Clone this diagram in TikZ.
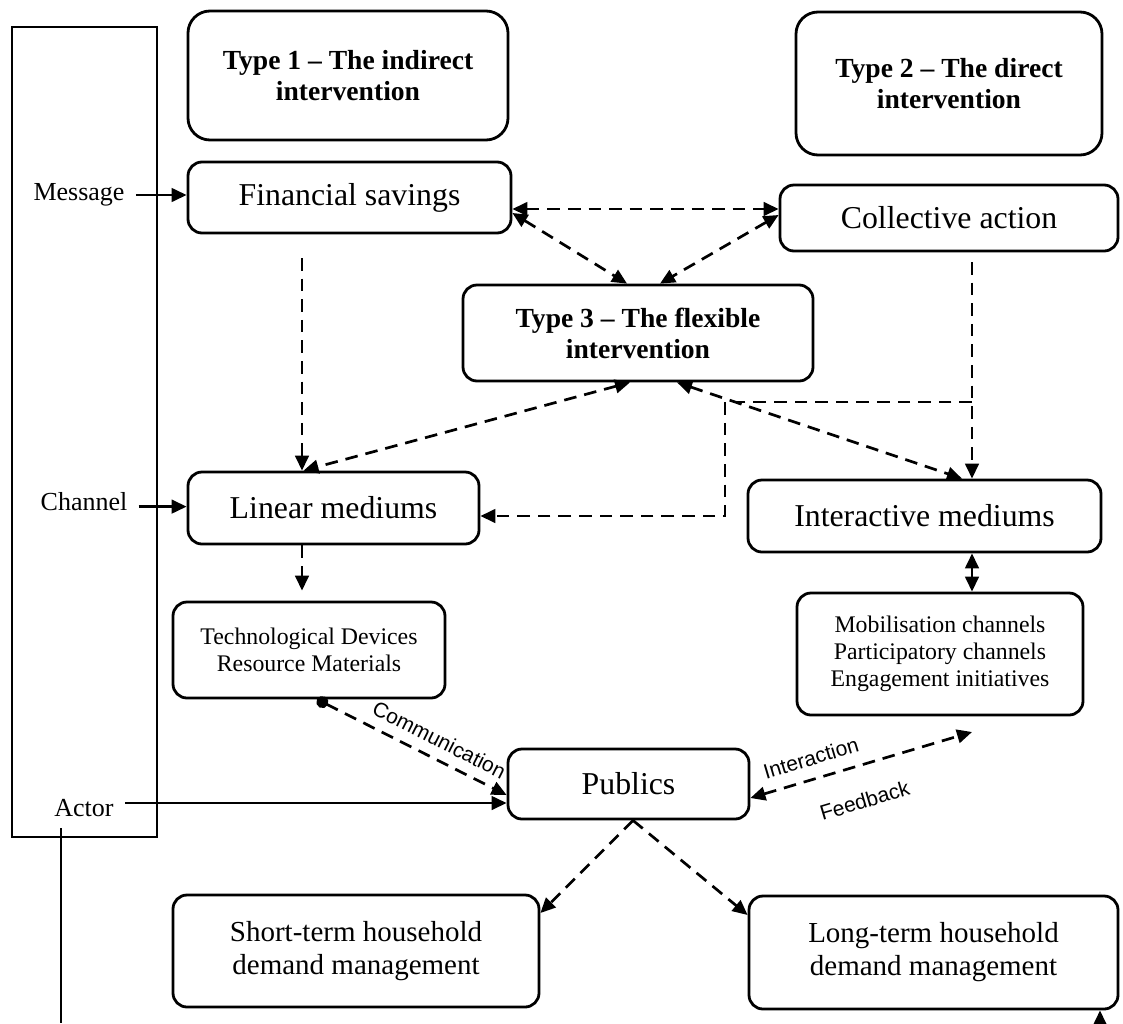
\documentclass[tikz,border=0pt]{standalone}
\usepackage{fontspec}
\setmainfont{Liberation Serif}
\newfontfamily\labelsans{Liberation Sans}
\usetikzlibrary{arrows.meta, positioning}

\tikzset{
  box/.style={draw, line width=1.4pt, rounded corners=7pt, align=center, inner sep=2pt},
  typebox/.style={box, rounded corners=11pt, font=\fontsize{13.8}{15.5}\selectfont\bfseries},
  bigbox/.style={box, font=\fontsize{15.9}{18}\selectfont},
  smallbox/.style={box, font=\fontsize{11.9}{13.4}\selectfont},
  outcome/.style={box, font=\fontsize{14.5}{16.5}\selectfont},
  side/.style={font=\fontsize{13}{15}\selectfont, inner sep=5.5pt},
  flow/.style={dash pattern=on 6.3pt off 4pt, line width=1.35pt},
  feed/.style={line width=1.3pt},
  tag/.style={font=\labelsans\fontsize{10.5}{12}\selectfont, sloped, inner sep=1pt}
}

\begin{document}
\begin{tikzpicture}[x=0.5pt, y=-0.5pt, >={Triangle[length=7.5pt,width=6.8pt]}]
\useasboundingbox (0,0) rectangle (1123,1023);

\node[draw, line width=1.3pt, minimum width=72.5pt, minimum height=405pt] (frame) at (84.5,432) {};
\node[side] (msg) at (79,195) {Message};
\node[side] (chan) at (84,502) {Channel};
\node[side] (actor) at (84,808) {Actor};

\node[typebox, minimum width=160pt, minimum height=64.5pt] (type1) at (348,75.5) {Type 1 – The indirect\\intervention};
\node[typebox, minimum width=153pt, minimum height=71.5pt] (type2) at (949,83.5) {Type 2 – The direct\\intervention};
\node[bigbox, minimum width=161.5pt, minimum height=35.5pt] (fin) at (349.5,197.5) {Financial savings};
\node[bigbox, minimum width=169pt, minimum height=33pt] (coll) at (949,218) {Collective action};
\node[typebox, rounded corners=7pt, minimum width=175pt, minimum height=48pt] (type3) at (638,333) {Type 3 – The flexible\\intervention};
\node[bigbox, minimum width=145.5pt, minimum height=36pt] (lin) at (333.5,508) {Linear mediums};
\node[bigbox, minimum width=176.5pt, minimum height=36pt] (inter) at (924.5,516) {Interactive mediums};
\node[smallbox, minimum width=136pt, minimum height=48pt] (tech) at (309,650) {Technological Devices\\Resource Materials};
\node[smallbox, minimum width=143pt, minimum height=61pt] (mob) at (940,654) {Mobilisation channels\\Participatory channels\\Engagement initiatives};
\node[bigbox, minimum width=120.5pt, minimum height=35pt] (pub) at (628.5,784) {Publics};
\node[outcome, minimum width=183pt, minimum height=56pt] (short) at (356,951) {Short-term household\\demand management};
\node[outcome, minimum width=184.5pt, minimum height=56.5pt] (long) at (933.5,952.5) {Long-term household\\demand management};

\coordinate (finlow) at (302,258);
\coordinate (colllow) at (972,262);
\coordinate (cbend) at (972,402);
\coordinate (lbend) at (725,516);
\coordinate (fback) at (972,732);
\coordinate (lbot) at (1100,1023);
\coordinate (abot) at (61,1023);

\draw[feed, ->] (msg.east) -- (msg.east -| fin.west);
\draw[feed, ->] ([yshift=-2.3pt]chan.east) -- ([yshift=-2.3pt]chan.east -| lin.west);
\draw[feed, ->] ([yshift=2.5pt]actor.east) -- ([yshift=2.5pt]actor.east -| pub.west);
\draw[line width=0.6pt] (abot |- actor.south) -- (abot);

\draw[flow, <->] ([yshift=-5.75pt]fin.east) -- ([yshift=4.5pt]coll.west);
\draw[flow, <->] ([yshift=-7.75pt]fin.east) -- ([xshift=-5.5pt]type3.north);
\draw[flow, <->] ([yshift=1.5pt]coll.west) -- ([xshift=11pt]type3.north);
\draw[flow, ->] (finlow) -- (finlow |- lin.north);
\draw[flow, <->] ([xshift=-4pt]type3.south) -- ([xshift=-15pt]lin.north);
\draw[flow, <->] ([xshift=19.5pt]type3.south) -- ([xshift=18.75pt]inter.north);
\draw[flow, ->] (colllow) -- (colllow |- inter.north);
\draw[flow, ->] (cbend) -| (lbend) -- (lbend -| lin.east);
\draw[flow, ->, shorten >=5pt] (finlow |- lin.south) -- (finlow |- tech.north);
\draw[flow, <->] (colllow |- inter.south) -- (colllow |- mob.north);
\draw[flow, {Circle[length=6pt]}->] ([xshift=4pt]tech.south) -- node[tag, above=4pt, pos=0.6] {Communication} ([yshift=-5.5pt]pub.west);
\draw[flow, <->] ([yshift=-7pt]pub.east) -- node[tag, above=5pt, pos=0.3] {Interaction} node[tag, below=12pt, pos=0.47] {Feedback} (fback);
\draw[flow, ->] ([xshift=2.25pt]pub.south) -- ([yshift=19pt]short.east);
\draw[flow, ->] ([xshift=2.25pt]pub.south) -- ([yshift=18.75pt]long.west);
\draw[feed, ->] (lbot) -- (lbot |- long.south);
\end{tikzpicture}
\end{document}
